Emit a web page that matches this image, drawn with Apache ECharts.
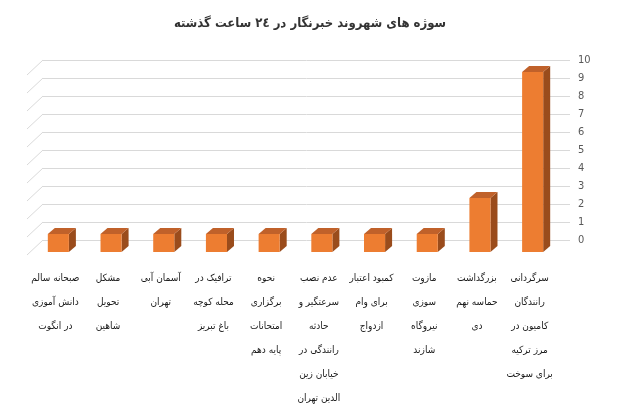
<!DOCTYPE html>
<html><head><meta charset="utf-8">
<script src="https://cdn.jsdelivr.net/npm/echarts@6/dist/echarts.min.js"></script>
<style>html,body{margin:0;padding:0;background:#fff}#c{width:620px;height:420px}</style>
</head><body><div id="c"></div>
<script>
// categories in reading order (right to left)
var categories = [
  "سرگردانی\nرانندگان\nکامیون در\nمرز ترکیه\nبرای سوخت",
  "بزرگداشت\nحماسه نهم\nدی",
  "مازوت\nسوزی\nنیروگاه\nشازند",
  "کمبود اعتبار\nبرای وام\nازدواج",
  "عدم نصب\nسرعتگیر و\nحادثه\nرانندگی در\nخیابان زین\nالدین تهران",
  "نحوه\nبرگزاری\nامتحانات\nپایه دهم",
  "ترافیک در\nمحله کوچه\nباغ تبریز",
  "آسمان آبی\nتهران",
  "مشکل\nتحویل\nشاهین",
  "صبحانه سالم\nدانش آموزی\nدر انگوت"
];
var values = [10, 3, 1, 1, 1, 1, 1, 1, 1, 1];
var yTicks = [0,1,2,3,4,5,6,7,8,9,10];
var titleText = "سوژه های شهروند خبرنگار در ٢٤ ساعت گذشته";

var chart = echarts.init(document.getElementById('c'));
var FRONT = [-11, 12], DEPTH = [7, -6];
var FONT = "'DejaVu Sans Condensed', 'DejaVu Sans'";

function barItem(params, api) {
  var top = api.coord([api.value(0), api.value(1)]);
  var base = api.coord([api.value(0), 0]);
  var bw = api.size([1, 0])[0] * 0.4;
  var xl = top[0] + FRONT[0] - bw / 2, xr = xl + bw;
  var yt = top[1] + FRONT[1], yb = base[1] + FRONT[1];
  return {
    type: 'group',
    children: [
      {type: 'polygon', shape: {points: [[xr, yt], [xr + DEPTH[0], yt + DEPTH[1]], [xr + DEPTH[0], yb + DEPTH[1]], [xr, yb]]},
       style: {fill: '#9A4C1C'}},
      {type: 'polygon', shape: {points: [[xl, yt], [xr, yt], [xr + DEPTH[0], yt + DEPTH[1]], [xl + DEPTH[0], yt + DEPTH[1]]]},
       style: {fill: '#C0612A'}},
      {type: 'rect', shape: {x: xl, y: yt, width: bw, height: yb - yt}, style: {fill: '#ED7D31'}}
    ]
  };
}

function wallItem(params, api) {
  var p = api.coord([0, api.value(0)]);
  var left = params.coordSys.x;
  return {
    type: 'line',
    shape: {x1: left, y1: p[1], x2: left - 16, y2: p[1] + 15},
    style: {stroke: '#d9d9d9', lineWidth: 1}
  };
}

chart.setOption({
  animation: false,
  title: {
    text: titleText, left: 'center', top: 12,
    textStyle: {fontFamily: FONT, fontSize: 13, fontWeight: 'bold', color: '#333333'}
  },
  grid: {left: 43, right: 50, top: 60, bottom: 180},
  xAxis: {
    type: 'category', data: categories, inverse: true,
    axisLine: {show: false}, axisTick: {show: false},
    axisLabel: {
      interval: 0, margin: 26, fontFamily: FONT, fontSize: 10, lineHeight: 24,
      color: '#1a1a1a', padding: [0, 28, 0, 0], verticalAlign: 'top'
    }
  },
  yAxis: {
    type: 'value', position: 'right', min: 0, max: 10, interval: 1,
    axisLine: {show: false}, axisTick: {show: false},
    axisLabel: {margin: 8, fontFamily: FONT, fontSize: 11, color: '#595959'},
    splitLine: {lineStyle: {color: '#d9d9d9', width: 1}}
  },
  series: [
    {type: 'custom', renderItem: wallItem, data: yTicks.map(function (v) { return [v]; }),
     encode: {y: 0}, silent: true, clip: false, z: 1},
    {type: 'custom', renderItem: barItem, data: values.map(function (v, i) { return [i, v]; }),
     encode: {x: 0, y: 1}, clip: false, z: 2}
  ]
});
</script></body></html>
